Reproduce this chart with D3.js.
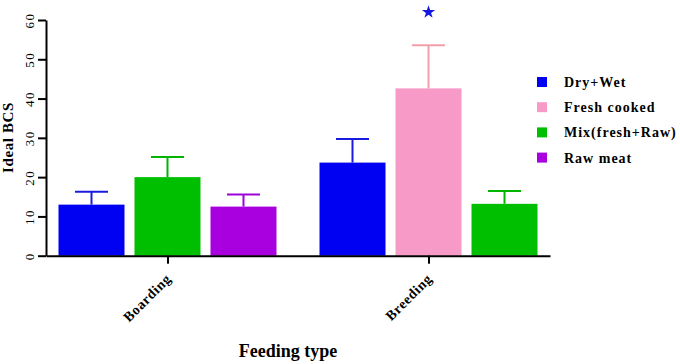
<!DOCTYPE html>
<html>
<head>
<meta charset="utf-8">
<script src="https://cdn.jsdelivr.net/npm/d3@7"></script>
<style>
  body { margin: 0; background: #fff; }
  text { font-family: "Liberation Serif", "Times New Roman", serif; }
</style>
</head>
<body>
<div id="chart"></div>
<script>
// data (mean + error bar)
let groups = ["Boarding", "Breeding"]
let feedTypes = ["Dry+Wet", "Fresh cooked", "Mix(fresh+Raw)", "Raw meat"]
let feedColors = ["#0000f2", "#f79ac7", "#00bf00", "#a800df"]
let errColors = ["#1a1ae0", "#f0a0a8", "#00b400", "#a000d8"]

let boardingTypes = ["Dry+Wet", "Mix(fresh+Raw)", "Raw meat"]
let boardingMean = [13.0, 20.0, 12.5]
let boardingErr = [3.3, 5.1, 3.1]

let breedingTypes = ["Dry+Wet", "Fresh cooked", "Mix(fresh+Raw)"]
let breedingMean = [23.7, 42.6, 13.2]
let breedingErr = [6.0, 11.0, 3.3]

let starredBar = { group: "Breeding", type: "Fresh cooked" }
let yTicks = [0, 10, 20, 30, 40, 50, 60]

let W = 680, H = 364

let svg = d3.select("#chart")
  .append("svg")
  .attr("width", W)
  .attr("height", H)

// build rows for every bar
let rows = []
boardingTypes.forEach(function(t, i) {
  rows.push({ group: "Boarding", type: t, idx: i, mean: boardingMean[i], err: boardingErr[i] })
})
breedingTypes.forEach(function(t, i) {
  rows.push({ group: "Breeding", type: t, idx: i, mean: breedingMean[i], err: breedingErr[i] })
})

let x = d3.scalePoint().domain(groups).range([46, 550]).padding(0.4655)
let xi = d3.scaleBand().domain([0, 1, 2]).range([-114, 114]).paddingInner(0.1316).paddingOuter(0.0658)
let y = d3.scaleLinear().domain([0, 60]).range([255.7, 20])
let color = d3.scaleOrdinal().domain(feedTypes).range(feedColors)
let errColor = d3.scaleOrdinal().domain(feedTypes).range(errColors)

// bars
svg.selectAll(".bar")
  .data(rows)
  .enter().append("rect")
  .attr("class", "bar")
  .attr("x", function(d) { return x(d.group) + xi(d.idx) })
  .attr("width", xi.bandwidth())
  .attr("y", function(d) { return y(d.mean) })
  .attr("height", function(d) { return y(0) - y(d.mean) })
  .style("fill", function(d) { return color(d.type) })

// error bars (upper only)
let eb = svg.selectAll(".err")
  .data(rows)
  .enter().append("g")
  .attr("class", "err")
  .style("stroke", function(d) { return errColor(d.type) })
  .style("stroke-width", 2)

eb.append("line")
  .attr("x1", function(d) { return x(d.group) + xi(d.idx) + xi.bandwidth() / 2 })
  .attr("x2", function(d) { return x(d.group) + xi(d.idx) + xi.bandwidth() / 2 })
  .attr("y1", function(d) { return y(d.mean) })
  .attr("y2", function(d) { return y(d.mean + d.err) })

eb.append("line")
  .attr("x1", function(d) { return x(d.group) + xi(d.idx) + xi.bandwidth() / 4 })
  .attr("x2", function(d) { return x(d.group) + xi(d.idx) + xi.bandwidth() * 3 / 4 })
  .attr("y1", function(d) { return y(d.mean + d.err) })
  .attr("y2", function(d) { return y(d.mean + d.err) })

// significance star
let starRow = rows.filter(function(d) { return d.group == starredBar.group && d.type == starredBar.type })
svg.selectAll(".star")
  .data(starRow)
  .enter().append("path")
  .attr("class", "star")
  .attr("d", d3.symbol().type(d3.symbolStar).size(55))
  .attr("transform", function(d) {
    return "translate(" + (x(d.group) + xi(d.idx) + xi.bandwidth() / 2) + "," + (y(d.mean + d.err) - 33) + ")"
  })
  .style("fill", "#1515e0")

// y axis
let yAxis = svg.append("g")
  .attr("transform", "translate(46,0)")
  .call(d3.axisLeft(y).tickValues(yTicks).tickSize(8).tickSizeOuter(0))
yAxis.select(".domain").attr("stroke-width", 2)
yAxis.selectAll(".tick line").attr("stroke-width", 2)
yAxis.selectAll(".tick text")
  .attr("x", 0).attr("dy", 0)
  .attr("transform", "translate(-12,0) rotate(-90)")
  .attr("text-anchor", "middle")
  .style("font-size", "13px")
  .style("letter-spacing", "1.5px")
  .style("font-family", "Liberation Serif")

// x axis
let xAxis = svg.append("g")
  .attr("transform", "translate(0," + y(0) + ")")
  .call(d3.axisBottom(x).tickSize(8).tickSizeOuter(0))
xAxis.select(".domain").attr("stroke-width", 2)
xAxis.selectAll(".tick line").attr("stroke-width", 2)
xAxis.selectAll(".tick text")
  .attr("x", 0).attr("y", 0).attr("dy", 0)
  .attr("transform", "translate(4,24) rotate(-45)")
  .attr("text-anchor", "end")
  .style("font-size", "14px")
  .style("font-weight", "bold")
  .style("letter-spacing", "0.6px")
  .style("font-family", "Liberation Serif")

// axis titles
svg.append("text")
  .attr("transform", "translate(13,137.5) rotate(-90)")
  .attr("text-anchor", "middle")
  .style("font-size", "15px")
  .style("font-weight", "bold")
  .style("letter-spacing", "0.6px")
  .text("Ideal BCS")

svg.append("text")
  .attr("x", 288)
  .attr("y", 357)
  .attr("text-anchor", "middle")
  .style("font-size", "18px")
  .style("font-weight", "bold")
  .text("Feeding type")

// legend
let legend = svg.selectAll(".legend")
  .data(feedTypes)
  .enter().append("g")
  .attr("class", "legend")
  .attr("transform", function(d, i) { return "translate(537," + (77 + i * 25.2) + ")" })

legend.append("rect")
  .attr("width", 10)
  .attr("height", 10)
  .style("fill", color)

legend.append("text")
  .attr("x", 27)
  .attr("y", 10)
  .style("font-size", "14px")
  .style("font-weight", "bold")
  .style("letter-spacing", "1px")
  .text(function(d) { return d })
</script>
</body>
</html>
